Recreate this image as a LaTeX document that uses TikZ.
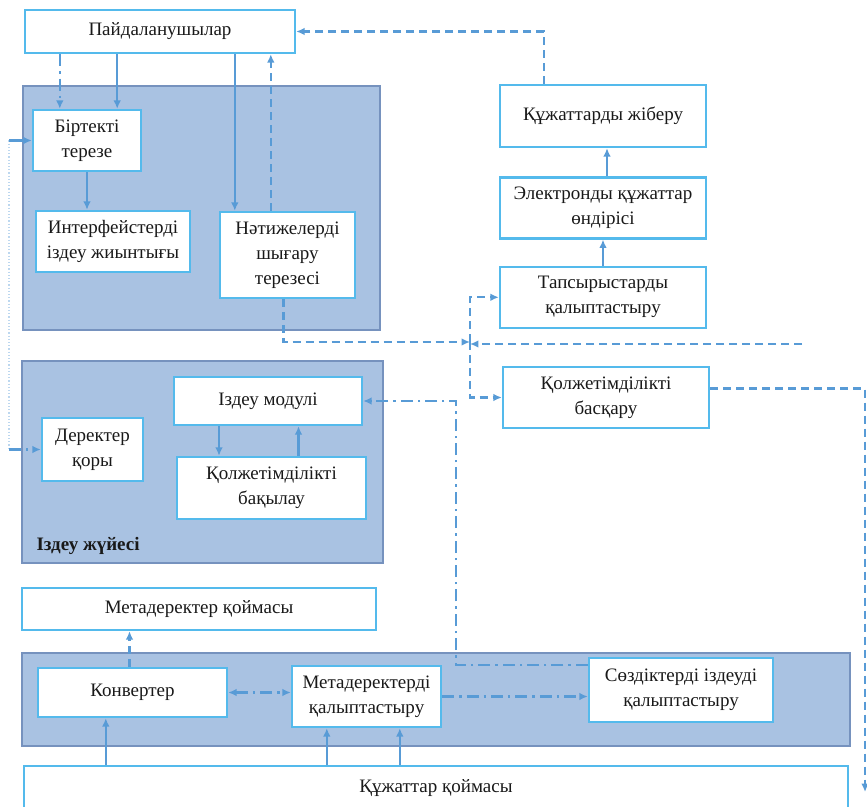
\documentclass[tikz,border=0pt]{standalone}
\usepackage{fontspec}
\setmainfont{Liberation Serif}
\usetikzlibrary{arrows.meta,positioning,calc}
\definecolor{panelfill}{RGB}{169,194,226}
\definecolor{paneledge}{RGB}{118,146,190}
\definecolor{boxedge}{RGB}{84,186,236}
\definecolor{linkblue}{RGB}{88,155,214}

\begin{document}
\begin{tikzpicture}[
  x=0.5pt, y=-0.5pt,
  font=\fontsize{9.5}{12.5}\selectfont,
  node distance=13.5pt,
  >={Latex[length=4.2pt,width=3.8pt]},
  panel/.style={draw=paneledge, line width=0.9pt, fill=panelfill, inner sep=0pt},
  box/.style={draw=boxedge, line width=1.2pt, fill=white, align=center, inner sep=1pt, text=black!90},
  arrow/.style={->, line width=1.1pt, draw=linkblue},
  dashline/.style={dash pattern=on 4pt off 2.5pt},
  dotdash/.style={dash pattern=on 6pt off 2.5pt on 1.2pt off 2.5pt}
]
\useasboundingbox (0,0) rectangle (867,807);
\clip (0,0) rectangle (867,807);

\node[box, minimum width=135pt, minimum height=21.5pt] (users) at (160,31.5) {Пайдаланушылар};
\node[panel, minimum width=178.5pt, minimum height=122pt] (portal) at (201.5,208) {};
\node[box, minimum width=54pt, minimum height=30.5pt] (unified) at (87,140.5) {Біртекті\\терезе};
\node[box, minimum width=77pt, minimum height=30.5pt] (ifaces) at (113,241.5) {Интерфейстерді\\іздеу жиынтығы};
\node[box, minimum width=67.5pt, minimum height=43pt] (results) at (287.5,255) {Нәтижелерді\\шығару\\терезесі};

\node[box, minimum width=103pt, minimum height=31pt] (dispatch) at (603,116) {Құжаттарды жіберу};
\node[box, minimum width=103pt, minimum height=30.5pt, below=14pt of dispatch] (edocs) {Электронды құжаттар\\өндірісі};
\node[box, minimum width=103pt, minimum height=30.5pt, below=13pt of edocs] (orders) {Тапсырыстарды\\қалыптастыру};
\node[box, minimum width=103pt, minimum height=30.5pt] (access) at (606,397.5) {Қолжетімділікті\\басқару};

\node[panel, minimum width=180.5pt, minimum height=101pt] (search) at (202.5,462) {};
\node[font=\fontsize{9.5}{12.5}\selectfont\bfseries, anchor=west, inner sep=0pt, text=black!90] (searchname) at ([shift={(7.5pt,9pt)}]search.south west) {Іздеу жүйесі};
\node[box, minimum width=94pt, minimum height=24pt] (seeker) at (268,401) {Іздеу модулі};
\node[box, minimum width=50.5pt, minimum height=31.5pt] (datastore) at (92.5,449.5) {Деректер\\қоры};
\node[box, minimum width=94.5pt, minimum height=31pt] (control) at (271.5,488) {Қолжетімділікті\\бақылау};

\node[box, minimum width=177pt, minimum height=21pt] (metastore) at (199,609) {Метадеректер қоймасы};
\node[panel, minimum width=414pt, minimum height=46.5pt] (metapanel) at (436,699.5) {};
\node[box, minimum width=94.5pt, minimum height=24.5pt] (converter) at (132.5,692.5) {Конвертер};
\node[box, minimum width=74.5pt, minimum height=30.5pt] (metagen) at (366.5,696.5) {Метадеректерді\\қалыптастыру};
\node[box, minimum width=92pt, minimum height=32pt] (dictgen) at (681,690) {Сөздіктерді іздеуді\\қалыптастыру};
\node[box, minimum width=412pt, minimum height=22pt] (docstore) at (436,788) {Құжаттар қоймасы};

\coordinate (leftA) at (9,140.5);
\coordinate (leftB) at (9,449.5);
\coordinate (hub) at (470,342);
\coordinate (feedR) at (802,344);
\coordinate (exitR) at (865,792);

\draw[draw=linkblue!40, densely dotted, line width=0.6pt] (leftA) -- (leftB);
\draw[arrow] (leftA) -- (unified.west);
\draw[arrow, dotdash] (leftB) -- (datastore.west);
\draw[arrow, dotdash] ([xshift=14pt]unified.north west |- users.south) -- ([xshift=14pt]unified.north west);
\draw[arrow] ([xshift=-12.5pt]unified.north east |- users.south) -- ([xshift=-12.5pt]unified.north east);
\draw[arrow] ([xshift=8pt]results.north west |- users.south) -- ([xshift=8pt]results.north west);
\draw[arrow, dashline] ([xshift=26pt]results.north west) -- ([xshift=26pt]results.north west |- users.south);
\draw[arrow] (unified.south) -- (unified.south |- ifaces.north);
\draw[arrow, dashline] ([xshift=-2pt]results.south) |- (hub);
\draw[arrow, dashline] (feedR) -- (hub |- feedR);
\draw[arrow, dashline] (hub) |- (orders.west);
\draw[arrow, dashline] (hub) |- (access.west);
\draw[arrow] (orders.north) -- (orders.north |- edocs.south);
\draw[arrow] ([xshift=2pt]edocs.north) -- ([xshift=2pt]edocs.north |- dispatch.south);
\draw[arrow, dashline] ([xshift=22.5pt]dispatch.north west) |- (users.east);
\draw[arrow, dashline] ([yshift=4.5pt]access.east) -| (exitR);
\draw[arrow] ([xshift=-24.5pt]seeker.south) -- ([xshift=-24.5pt]seeker.south |- control.north);
\draw[arrow] ([xshift=13.5pt]control.north) -- ([xshift=13.5pt]control.north |- seeker.south);
\draw[arrow, dotdash] ([yshift=12.5pt]dictgen.west) -| ([xshift=46.5pt]seeker.east) -- (seeker.east);
\draw[arrow, dashline] ([xshift=-1.5pt]converter.north) -- ([xshift=-1.5pt]converter.north |- metastore.south);
\draw[arrow, dotdash, <->] (converter.east) -- (converter.east -| metagen.west);
\draw[arrow, dotdash] (metagen.east) -- (metagen.east -| dictgen.west);
\draw[arrow] ([xshift=34.5pt]converter.south west |- docstore.north) -- ([xshift=34.5pt]converter.south west);
\draw[arrow] ([xshift=18pt]metagen.south west |- docstore.north) -- ([xshift=18pt]metagen.south west);
\draw[arrow] ([xshift=54.5pt]metagen.south west |- docstore.north) -- ([xshift=54.5pt]metagen.south west);

\end{tikzpicture}
\end{document}
